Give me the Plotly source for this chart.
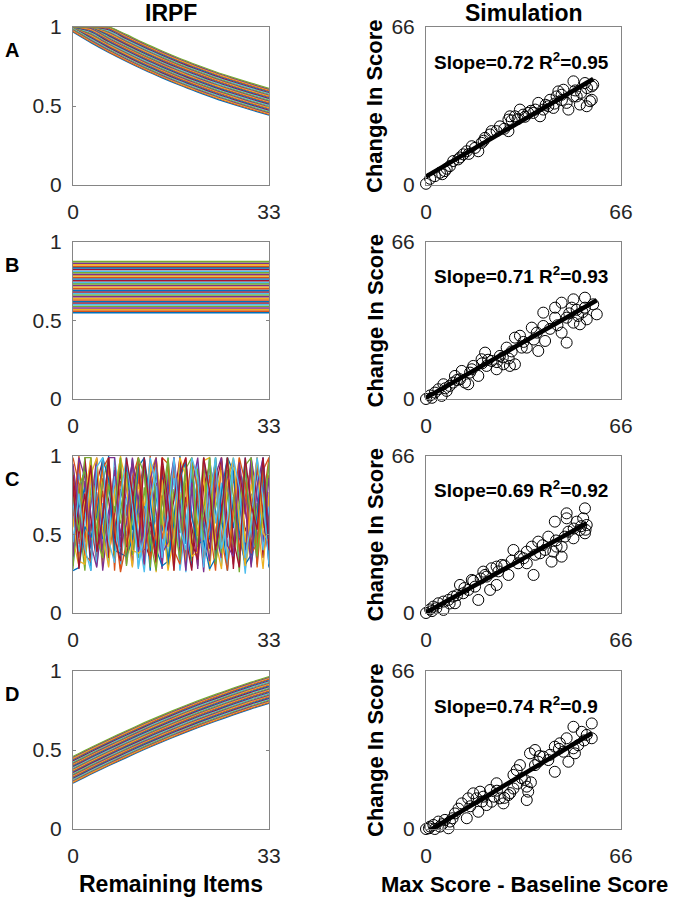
import plotly.graph_objects as go

# ---------------- data ----------------
matlab_colors = ['#0072BD', '#D95319', '#EDB120', '#7E2F8E', '#77AC30', '#4DBEEE', '#A2142F']

row_letters = ['A', 'B', 'C', 'D']
left_title = 'IRPF'
right_title = 'Simulation'
left_xlabel = 'Remaining Items'
right_xlabel = 'Max Score - Baseline Score'
right_ylabel = 'Change In Score'

left_xticks = [0, 33]
left_yticks = [0, 0.5, 1]
left_yticktext = ['0', '0.5', '1']
right_ticks = [0, 66]

# IRPF curves (A: decreasing, D: increasing): lowest curve + per-line offsets
irpf_x_smooth = [0, 3, 6, 9, 12, 15, 18, 21, 24, 27, 30, 33]
irpf_a_base = [0.968, 0.901, 0.839, 0.782, 0.728, 0.678, 0.631, 0.588, 0.547, 0.510, 0.475, 0.442]
irpf_d_base = [0.289, 0.346, 0.400, 0.452, 0.503, 0.551, 0.597, 0.641, 0.682, 0.722, 0.760, 0.795]
irpf_ad_offsets = [0.0, 0.0053, 0.0106, 0.0159, 0.0213, 0.0266, 0.0319, 0.0372, 0.0425, 0.0478,
                   0.0531, 0.0584, 0.0638, 0.0691, 0.0744, 0.0797, 0.085, 0.0903, 0.0956, 0.1009,
                   0.1063, 0.1116, 0.1169, 0.1222, 0.1275, 0.1328, 0.1381, 0.1434, 0.1488, 0.1541,
                   0.1594, 0.1647, 0.17]

# IRPF B: flat lines
irpf_b_levels = [0.550, 0.560, 0.570, 0.580, 0.591, 0.601, 0.611, 0.621, 0.631, 0.641, 0.652,
                 0.662, 0.672, 0.682, 0.692, 0.703, 0.713, 0.723, 0.733, 0.743, 0.753, 0.764,
                 0.774, 0.784, 0.794, 0.804, 0.814, 0.825, 0.835, 0.845, 0.855, 0.865, 0.875]

# IRPF C: random-like lines, one value per remaining item 0..33
irpf_c_x = list(range(34))
irpf_c_lines = [
    [0.30, 0.72, 0.95, 0.41, 0.88, 0.56, 1.00, 0.33, 0.79, 0.62, 0.98, 0.45, 0.70, 0.27, 0.91, 0.52, 0.84, 0.38, 1.00, 0.60, 0.29, 0.86, 0.47, 0.99, 0.65, 0.35, 0.81, 0.54, 0.93, 0.40, 0.76, 0.31, 0.97, 0.58],
    [0.85, 0.44, 0.62, 0.99, 0.36, 0.78, 0.51, 0.93, 0.28, 0.69, 0.42, 0.87, 0.57, 1.00, 0.34, 0.75, 0.46, 0.96, 0.30, 0.83, 0.64, 0.39, 0.92, 0.55, 0.27, 0.80, 0.48, 0.98, 0.37, 0.71, 0.90, 0.43, 0.66, 0.88],
    [0.55, 0.97, 0.31, 0.74, 0.63, 0.29, 0.90, 0.48, 1.00, 0.37, 0.81, 0.59, 0.32, 0.89, 0.44, 0.98, 0.66, 0.27, 0.77, 0.50, 0.95, 0.36, 0.70, 0.86, 0.42, 0.99, 0.33, 0.61, 0.79, 0.28, 0.53, 0.94, 0.39, 0.73],
    [0.68, 0.36, 0.84, 0.52, 0.98, 0.40, 0.65, 0.82, 0.43, 0.94, 0.30, 0.73, 0.99, 0.50, 0.61, 0.28, 0.88, 0.56, 0.72, 0.35, 0.90, 0.67, 0.26, 0.78, 0.96, 0.45, 0.59, 0.34, 0.87, 0.63, 0.99, 0.46, 0.82, 0.30],
    [0.92, 0.58, 0.27, 0.80, 0.45, 0.99, 0.38, 0.68, 0.57, 0.85, 0.64, 0.35, 0.80, 0.41, 0.97, 0.62, 0.33, 0.79, 0.51, 0.97, 0.43, 0.58, 0.99, 0.31, 0.72, 0.57, 0.91, 0.42, 0.66, 0.97, 0.37, 0.70, 0.54, 0.95],
    [0.40, 0.89, 0.66, 0.35, 0.77, 0.60, 0.30, 0.99, 0.70, 0.49, 0.88, 0.28, 0.64, 0.82, 0.57, 0.38, 0.99, 0.46, 0.90, 0.26, 0.68, 0.96, 0.40, 0.63, 0.85, 0.30, 0.74, 0.95, 0.29, 0.85, 0.48, 0.79, 0.99, 0.41],
    [0.78, 0.48, 0.99, 0.60, 0.32, 0.86, 0.72, 0.41, 0.96, 0.31, 0.76, 0.97, 0.45, 0.35, 0.83, 0.73, 0.52, 0.99, 0.36, 0.74, 0.55, 0.30, 0.81, 0.94, 0.36, 0.68, 0.99, 0.28, 0.83, 0.52, 0.64, 0.99, 0.35, 0.62],
    [0.33, 0.67, 0.80, 0.27, 0.93, 0.47, 0.82, 0.58, 0.37, 0.99, 0.53, 0.67, 0.94, 0.39, 0.71, 0.90, 0.29, 0.61, 0.95, 0.44, 0.86, 0.70, 0.35, 0.48, 0.99, 0.62, 0.27, 0.74, 0.57, 0.99, 0.31, 0.56, 0.87, 0.49],
    [0.62, 1.00, 0.45, 0.91, 0.70, 0.34, 0.97, 0.27, 0.84, 0.66, 0.41, 0.92, 0.30, 0.75, 0.99, 0.47, 0.68, 0.33, 0.84, 0.99, 0.38, 0.76, 0.58, 0.88, 0.44, 0.97, 0.52, 0.88, 0.39, 0.74, 0.93, 0.29, 0.71, 0.99],
    [0.47, 0.30, 0.73, 0.99, 0.59, 0.91, 0.44, 0.76, 0.99, 0.56, 0.29, 0.82, 0.68, 0.96, 0.26, 0.85, 0.42, 0.92, 0.63, 0.31, 0.98, 0.49, 0.89, 0.27, 0.73, 0.91, 0.36, 0.65, 0.99, 0.45, 0.82, 0.61, 0.28, 0.77],
    [0.95, 0.63, 0.38, 0.69, 0.99, 0.27, 0.60, 0.91, 0.49, 0.79, 0.95, 0.39, 0.55, 0.87, 0.64, 0.31, 0.75, 0.99, 0.42, 0.67, 0.83, 0.28, 0.99, 0.71, 0.52, 0.35, 0.86, 0.97, 0.48, 0.32, 0.99, 0.74, 0.45, 0.86],
    [0.28, 0.81, 0.90, 0.46, 0.55, 0.83, 0.99, 0.36, 0.65, 0.90, 0.37, 0.61, 0.99, 0.29, 0.80, 0.56, 0.95, 0.43, 0.70, 0.88, 0.33, 0.92, 0.46, 0.64, 0.99, 0.38, 0.77, 0.44, 0.70, 0.91, 0.57, 0.36, 0.92, 0.53],
    [0.71, 0.39, 0.57, 0.86, 0.30, 0.70, 0.47, 0.87, 0.31, 0.73, 0.83, 0.51, 0.26, 0.69, 0.93, 0.40, 0.60, 0.86, 0.27, 0.55, 0.94, 0.63, 0.37, 0.99, 0.57, 0.83, 0.30, 0.93, 0.62, 0.25, 0.72, 0.88, 0.40, 0.68],
    [0.88, 0.55, 0.76, 0.32, 0.83, 0.97, 0.35, 0.62, 0.90, 0.42, 0.71, 0.99, 0.40, 0.58, 0.32, 0.94, 0.53, 0.72, 0.99, 0.48, 0.27, 0.82, 0.66, 0.41, 0.79, 0.99, 0.59, 0.31, 0.91, 0.67, 0.40, 0.96, 0.60, 0.36],
    [0.27, 0.29, 0.55, 0.48, 0.62, 0.99, 0.85, 0.40, 0.38, 0.36, 0.47, 0.93, 0.99, 0.72, 0.41, 0.30, 0.33, 0.58, 0.87, 0.96, 0.61, 0.44, 0.46, 0.28, 0.35, 0.77, 0.99, 0.90, 0.52, 0.31, 0.37, 0.63, 0.99, 0.29],
    [0.99, 0.82, 0.37, 0.33, 0.70, 0.92, 0.99, 0.56, 0.26, 0.45, 0.86, 0.99, 0.62, 0.34, 0.52, 0.99, 0.95, 0.40, 0.31, 0.69, 0.99, 0.78, 0.33, 0.57, 0.92, 0.48, 0.27, 0.66, 0.99, 0.83, 0.38, 0.44, 0.91, 0.99],
    [0.60, 0.33, 0.31, 0.88, 0.99, 0.52, 0.29, 0.77, 0.99, 0.83, 0.40, 0.38, 0.41, 0.90, 0.99, 0.64, 0.27, 0.49, 0.99, 0.87, 0.36, 0.39, 0.97, 0.99, 0.46, 0.28, 0.83, 0.99, 0.58, 0.30, 0.71, 0.99, 0.51, 0.45],
    [0.36, 0.99, 0.86, 0.44, 0.29, 0.63, 0.99, 0.99, 0.42, 0.57, 0.99, 0.70, 0.31, 0.85, 0.99, 0.38, 0.45, 0.99, 0.66, 0.27, 0.79, 0.99, 0.55, 0.33, 0.88, 0.99, 0.43, 0.36, 0.96, 0.69, 0.29, 0.81, 0.99, 0.52],
    [0.74, 0.52, 0.99, 0.99, 0.48, 0.35, 0.82, 0.64, 0.99, 0.30, 0.60, 0.99, 0.88, 0.47, 0.27, 0.71, 0.99, 0.59, 0.34, 0.92, 0.99, 0.42, 0.65, 0.99, 0.31, 0.58, 0.99, 0.75, 0.26, 0.94, 0.99, 0.39, 0.63, 0.96],
    [0.45, 0.76, 0.41, 0.27, 0.93, 0.99, 0.46, 0.32, 0.75, 0.99, 0.68, 0.29, 0.49, 0.99, 0.80, 0.35, 0.62, 0.99, 0.54, 0.40, 0.99, 0.86, 0.29, 0.72, 0.99, 0.41, 0.60, 0.99, 0.80, 0.35, 0.57, 0.99, 0.73, 0.31],
    [0.83, 0.28, 0.67, 0.94, 0.39, 0.61, 0.99, 0.48, 0.33, 0.99, 0.76, 0.42, 0.99, 0.61, 0.36, 0.99, 0.71, 0.27, 0.88, 0.99, 0.45, 0.34, 0.99, 0.78, 0.40, 0.64, 0.99, 0.47, 0.29, 0.99, 0.69, 0.53, 0.99, 0.40],
]

# Simulation scatter data (x = max score - baseline score, y = change in score)
sim_a_x = [0.0, 1.4, 3.0, 4.7, 6.4, 8.1, 9.2, 10.9, 12.6, 13.8, 15.5, 16.6, 17.7, 18.8, 20.0, 21.7, 22.2, 23.9,
           27.9, 27.9, 28.4, 30.1, 31.8, 32.9, 34.6, 36.3, 38.0, 38.6, 39.7, 41.4, 42.0, 43.1, 44.2, 44.8,
           45.9, 46.5, 47.6, 48.2, 49.9, 49.9, 51.0, 52.1, 53.8, 54.4, 55.5, 56.1, 56.1, 56.6,
           5.5, 7.0, 11.5, 14.5, 19.5, 25.0, 26.5, 29.0, 31.0, 33.5, 35.5, 37.0, 40.5, 43.5, 46.0, 50.5, 52.5, 54.5]
sim_a_y = [0.5, 2.6, 3.7, 5.1, 5.8, 7.9, 10.0, 10.7, 12.8, 14.1, 16.2, 15.5, 14.1, 17.6, 19.7, 21.1, 22.5, 22.5,
           22.5, 27.3, 28.7, 28.7, 31.5, 29.4, 30.1, 30.1, 34.3, 28.7, 31.5, 32.9, 35.6, 32.2, 37.0, 39.1,
           37.7, 39.8, 34.3, 31.5, 43.3, 37.0, 37.0, 33.6, 42.6, 32.9, 35.0, 41.2, 35.6, 41.9,
           4.5, 6.8, 11.5, 13.0, 18.5, 24.5, 23.5, 27.0, 27.5, 28.5, 31.0, 31.5, 33.5, 34.0, 35.5, 39.5, 38.5, 40.5]

sim_b_x = [0.0, 1.4, 3.0, 4.2, 5.9, 5.3, 7.0, 9.2, 9.8, 11.5, 12.1, 13.2, 14.3, 14.9, 16.0, 17.7, 18.8, 20.0,
           20.5, 22.2, 23.9, 25.0, 26.2, 27.3, 28.4, 30.1, 30.1, 31.8, 32.4, 34.1, 35.8, 37.5, 38.0, 39.7,
           39.7, 40.3, 43.7, 43.7, 45.9, 45.9, 47.6, 47.6, 49.3, 49.9, 49.9, 51.5, 52.1, 53.8, 53.8, 54.4,
           57.8, 56.6,
           2.0, 6.5, 8.0, 10.5, 15.5, 19.0, 21.0, 24.0, 26.0, 28.0, 29.0, 33.0, 36.5, 42.0, 44.5, 48.5, 51.0, 53.0]
sim_b_y = [0.0, 1.5, 2.7, 4.1, 6.2, 1.3, 3.4, 6.9, 9.7, 8.3, 11.8, 6.9, 6.2, 11.1, 13.9, 9.7, 16.7, 19.5,
           13.9, 16.0, 12.5, 18.1, 14.6, 21.6, 13.9, 14.6, 25.8, 26.6, 21.6, 21.6, 30.0, 27.9, 20.2, 30.7,
           36.3, 24.4, 34.2, 38.4, 27.9, 40.5, 23.7, 34.2, 38.4, 41.9, 32.1, 34.9, 31.4, 42.6, 38.4, 33.5,
           35.6, 39.8,
           0.5, 4.5, 5.5, 8.0, 12.5, 15.0, 16.5, 15.5, 17.5, 17.0, 20.0, 24.0, 25.0, 29.5, 31.0, 36.0, 37.5, 36.5]

sim_c_x = [0.0, 1.4, 2.5, 4.2, 5.9, 5.9, 7.6, 9.2, 9.8, 11.5, 12.6, 14.3, 15.5, 16.6, 17.7, 19.4, 20.5, 21.7,
           22.2, 23.9, 23.9, 25.6, 27.9, 29.6, 31.2, 31.8, 34.1, 34.1, 35.8, 36.4, 38.0, 38.6, 40.3, 41.4,
           42.5, 43.1, 44.2, 43.6, 45.9, 45.9, 47.0, 47.6, 47.6, 48.2, 49.9, 51.0, 52.1, 53.2, 53.8, 53.8,
           54.4,
           2.0, 3.5, 8.0, 10.5, 13.0, 16.0, 18.5, 20.0, 24.5, 26.5, 29.0, 33.0, 37.0, 39.5, 44.0, 50.0, 52.5, 54.0]
sim_c_y = [0.0, 1.5, 2.7, 4.1, 4.8, 1.3, 5.5, 6.9, 4.1, 11.8, 8.3, 9.7, 13.9, 11.1, 5.5, 17.4, 15.3, 9.7,
           18.8, 19.5, 11.8, 20.2, 16.0, 26.5, 20.9, 23.7, 20.9, 25.8, 27.9, 16.0, 30.0, 25.1, 26.5, 32.1,
           21.6, 25.8, 27.9, 38.4, 23.7, 27.9, 32.1, 41.9, 39.8, 34.2, 31.4, 38.4, 34.9, 39.8, 44.0, 33.5,
           37.0,
           0.8, 2.0, 4.0, 7.5, 10.5, 13.5, 14.5, 16.0, 17.5, 20.0, 22.0, 23.0, 24.5, 28.5, 30.5, 35.5, 36.5, 35.0]

sim_d_x = [0.0, 1.4, 2.5, 3.0, 4.2, 4.7, 6.4, 7.6, 8.1, 9.8, 12.1, 13.8, 14.3, 16.0, 17.1, 17.7, 18.3, 19.4,
           20.5, 21.7, 22.2, 23.9, 25.0, 26.2, 27.9, 29.6, 29.6, 30.7, 31.8, 32.4, 34.1, 34.1, 34.6, 35.2,
           36.9, 36.9, 38.0, 39.7, 41.4, 43.6, 43.6, 45.3, 46.5, 47.6, 48.2, 49.9, 49.9, 50.4, 52.7, 54.4,
           56.1, 56.1,
           1.0, 5.5, 9.0, 11.0, 15.0, 19.0, 23.0, 24.0, 26.5, 28.5, 31.0, 33.5, 35.5, 38.5, 42.0, 45.0, 51.5, 53.5]
sim_d_y = [0.0, 1.0, 1.7, 0.0, 3.1, 1.0, 3.8, 0.3, 3.1, 6.5, 10.7, 4.5, 12.8, 14.9, 12.8, 7.2, 15.6, 13.5,
           10.0, 16.3, 11.4, 19.1, 12.8, 10.7, 14.2, 16.9, 22.6, 24.6, 26.7, 21.2, 17.7, 12.1, 15.6, 31.6,
           33.0, 26.7, 28.1, 30.2, 28.8, 34.4, 23.9, 35.8, 32.3, 37.9, 28.1, 33.7, 42.7, 31.6, 40.6, 39.3,
           44.1, 37.9,
           0.3, 2.0, 4.5, 8.5, 9.5, 11.5, 13.5, 16.0, 13.0, 15.0, 19.0, 20.5, 19.5, 30.5, 31.0, 33.5, 35.0, 37.0]

fit_slope = [0.72, 0.71, 0.69, 0.74]
fit_intercept = [3.5, 0.5, 0.2, -1.5]
fit_r2 = ['0.95', '0.93', '0.92', '0.9']

# ---------------- layout geometry (pixels) ----------------
W, H = 674, 900
LX = (73, 269)
RX = (426, 621)
ROWS = [(27, 185), (242, 399), (456, 613), (671, 829)]

def px(x):
    return x / W

def py(y):
    return 1 - y / H

FONT = 'Liberation Sans, Arial, sans-serif'
AXCOL = '#858585'
TICKCOL = '#262626'

fig = go.Figure()
layout = dict(
    width=W, height=H, autosize=False,
    margin=dict(l=0, r=0, t=0, b=0, pad=0),
    paper_bgcolor='white', plot_bgcolor='white',
    showlegend=False,
    font=dict(family=FONT, color=TICKCOL),
)

def axis_common():
    return dict(showgrid=False, zeroline=False, showline=True, linecolor=AXCOL, linewidth=1,
                mirror='ticks', ticks='inside', ticklen=3, tickcolor=AXCOL, tickwidth=1,
                automargin=False, fixedrange=True,
                tickfont=dict(family=FONT, size=21, color=TICKCOL))

sim_x = [sim_a_x, sim_b_x, sim_c_x, sim_d_x]
sim_y = [sim_a_y, sim_b_y, sim_c_y, sim_d_y]

for r in range(4):
    iL = 2 * r + 1
    iR = 2 * r + 2
    top, bot = ROWS[r]
    ydom = [py(bot), py(top)]
    xl = axis_common()
    xl.update(domain=[px(LX[0]), px(LX[1])], range=[0, 33], anchor='y%d' % iL,
              tickvals=left_xticks, ticktext=[str(v) for v in left_xticks], ticklabelstandoff=8)
    yl = axis_common()
    yl.update(domain=ydom, range=[0, 1], anchor='x%d' % iL,
              tickvals=left_yticks, ticktext=left_yticktext, ticklabelstandoff=6)
    xr = axis_common()
    xr.update(domain=[px(RX[0]), px(RX[1])], range=[0, 66], anchor='y%d' % iR,
              tickvals=right_ticks, ticktext=[str(v) for v in right_ticks], ticklabelstandoff=8)
    yr = axis_common()
    yr.update(domain=ydom, range=[0, 66], anchor='x%d' % iR,
              tickvals=right_ticks, ticktext=[str(v) for v in right_ticks], ticklabelstandoff=6)
    layout['xaxis%d' % iL] = xl
    layout['yaxis%d' % iL] = yl
    layout['xaxis%d' % iR] = xr
    layout['yaxis%d' % iR] = yr

    xa, ya = 'x%d' % iL, 'y%d' % iL
    if r == 0 or r == 3:
        base = irpf_a_base if r == 0 else irpf_d_base
        for k, off in enumerate(irpf_ad_offsets):
            yv = [min(b + off, 1.0) for b in base]
            fig.add_trace(go.Scatter(x=irpf_x_smooth, y=yv, mode='lines', xaxis=xa, yaxis=ya,
                                     line=dict(color=matlab_colors[k % 7], width=1.2, shape='spline', smoothing=0.6),
                                     hoverinfo='skip'))
    elif r == 1:
        for k, lev in enumerate(irpf_b_levels):
            fig.add_trace(go.Scatter(x=[0, 33], y=[lev, lev], mode='lines', xaxis=xa, yaxis=ya,
                                     line=dict(color=matlab_colors[k % 7], width=1.6), hoverinfo='skip'))
    else:
        for k, vals in enumerate(irpf_c_lines):
            fig.add_trace(go.Scatter(x=irpf_c_x, y=vals, mode='lines', xaxis=xa, yaxis=ya,
                                     line=dict(color=matlab_colors[k % 7], width=1.3), hoverinfo='skip'))

    xa, ya = 'x%d' % iR, 'y%d' % iR
    fig.add_trace(go.Scatter(x=sim_x[r], y=sim_y[r], mode='markers', xaxis=xa, yaxis=ya,
                             marker=dict(symbol='circle-open', size=11, color='black', line=dict(width=1)),
                             cliponaxis=False, hoverinfo='skip'))
    xmax = max(sim_x[r])
    fig.add_trace(go.Scatter(x=[0, xmax], y=[fit_intercept[r], fit_intercept[r] + fit_slope[r] * xmax],
                             mode='lines', xaxis=xa, yaxis=ya,
                             line=dict(color='black', width=4.5), hoverinfo='skip'))

annotations = []
annotations.append(dict(text='<b>%s</b>' % left_title, x=px((LX[0] + LX[1]) / 2), y=py(13),
                        xref='paper', yref='paper', showarrow=False, xanchor='center', yanchor='middle',
                        font=dict(family=FONT, size=23, color='black')))
annotations.append(dict(text='<b>%s</b>' % right_title, x=px((RX[0] + RX[1]) / 2), y=py(13),
                        xref='paper', yref='paper', showarrow=False, xanchor='center', yanchor='middle',
                        font=dict(family=FONT, size=23, color='black')))
annotations.append(dict(text='<b>%s</b>' % left_xlabel, x=px((LX[0] + LX[1]) / 2), y=py(884),
                        xref='paper', yref='paper', showarrow=False, xanchor='center', yanchor='middle',
                        font=dict(family=FONT, size=23, color='black')))
annotations.append(dict(text='<b>%s</b>' % right_xlabel, x=px(524), y=py(884),
                        xref='paper', yref='paper', showarrow=False, xanchor='center', yanchor='middle',
                        font=dict(family=FONT, size=22, color='black')))
for r in range(4):
    top, bot = ROWS[r]
    annotations.append(dict(text='<b>%s</b>' % row_letters[r], x=px(12), y=py(top + 23),
                            xref='paper', yref='paper', showarrow=False, xanchor='center', yanchor='middle',
                            font=dict(family=FONT, size=20, color='black')))
    annotations.append(dict(text='<b>%s</b>' % right_ylabel, x=px(375), y=py((top + bot) / 2),
                            xref='paper', yref='paper', showarrow=False, xanchor='center', yanchor='middle',
                            textangle=-90, font=dict(family=FONT, size=22, color='black')))
    iR = 2 * r + 2
    annotations.append(dict(text='<b>Slope=%.2f R<sup>2</sup>=%s</b>' % (fit_slope[r], fit_r2[r]),
                            x=2, y=52, xref='x%d' % iR, yref='y%d' % iR, showarrow=False,
                            xanchor='left', yanchor='middle',
                            font=dict(family=FONT, size=19, color='black')))

layout['annotations'] = annotations
fig.update_layout(**layout)
fig.write_html('out.html', config={'displayModeBar': False},
               post_script="document.body.style.margin='0px';document.body.style.padding='0px';"
                           "document.documentElement.style.overflow='hidden';")
